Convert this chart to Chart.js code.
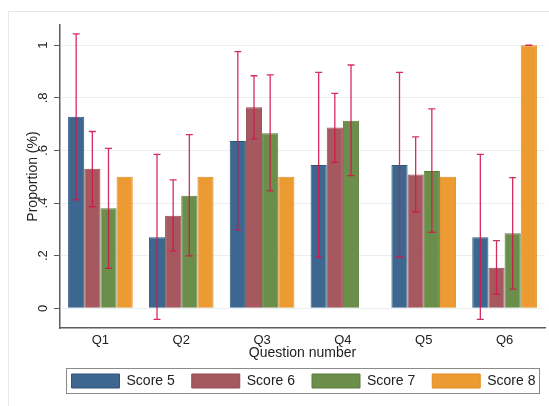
<!DOCTYPE html>
<html>
<head>
<meta charset="utf-8">
<script src="https://cdn.jsdelivr.net/npm/chart.js@4.4.1/dist/chart.umd.min.js"></script>
<style>
  body { margin: 0; background: #ffffff; }
  #wrap { width: 549px; height: 406px; }
</style>
</head>
<body>
<div id="wrap"><canvas id="myChart01" width="549" height="406"></canvas></div>
<script>
const questions = ['Q1', 'Q2', 'Q3', 'Q4', 'Q5', 'Q6'];
const yTicks = [0, 0.2, 0.4, 0.6, 0.8, 1];

const score5 = [0.728, 0.27, 0.636, 0.545, 0.545, 0.27];
const score6 = [0.53, 0.352, 0.764, 0.687, 0.509, 0.154];
const score7 = [0.38, 0.428, 0.665, 0.713, 0.522, 0.285];
const score8 = [0.5, 0.5, 0.5, null, 0.5, 1.0];

// confidence intervals (lower / upper)
const score5Lo = [0.412, -0.042, 0.298, 0.194, 0.194, -0.042];
const score5Hi = [1.043, 0.585, 0.976, 0.897, 0.897, 0.585];
const score6Lo = [0.386, 0.218, 0.644, 0.555, 0.367, 0.053];
const score6Hi = [0.672, 0.488, 0.884, 0.817, 0.652, 0.257];
const score7Lo = [0.152, 0.199, 0.446, 0.504, 0.289, 0.073];
const score7Hi = [0.608, 0.66, 0.887, 0.925, 0.758, 0.497];
const score8Lo = [null, null, null, null, null, 1.0];
const score8Hi = [null, null, null, null, null, 1.0];

const errLo = [score5Lo, score6Lo, score7Lo, score8Lo];
const errHi = [score5Hi, score6Hi, score7Hi, score8Hi];

const errorBars = {
    id: 'errorBars',
    afterDatasetsDraw(chart) {
        const ctx = chart.ctx;
        const y = chart.scales.y;
        ctx.save();
        ctx.strokeStyle = 'rgba(208, 22, 76, 0.9)';
        ctx.lineWidth = 1.3;
        chart.data.datasets.forEach((ds, i) => {
            const meta = chart.getDatasetMeta(i);
            meta.data.forEach((bar, j) => {
                const lo = errLo[i][j];
                const hi = errHi[i][j];
                if (lo == null || hi == null) return;
                const yLo = y.getPixelForValue(lo);
                const yHi = y.getPixelForValue(hi);
                ctx.beginPath();
                ctx.moveTo(bar.x, yLo);
                ctx.lineTo(bar.x, yHi);
                ctx.moveTo(bar.x - 3.5, yLo);
                ctx.lineTo(bar.x + 3.5, yLo);
                ctx.moveTo(bar.x - 3.5, yHi);
                ctx.lineTo(bar.x + 3.5, yHi);
                ctx.stroke();
            });
        });
        ctx.restore();
    }
};

const frame = {
    id: 'frame',
    beforeDraw(chart) {
        const ctx = chart.ctx;
        ctx.save();
        ctx.strokeStyle = '#e6e9ea';
        ctx.lineWidth = 1;
        ctx.beginPath();
        ctx.moveTo(8.5, 406);
        ctx.lineTo(8.5, 11.5);
        ctx.lineTo(549, 11.5);
        ctx.stroke();
        ctx.restore();
    },
    afterLayout(chart) {
        chart.legend.left += 31;
        chart.legend.right += 31;
    },
    afterDraw(chart) {
        const lg = chart.legend;
        const pad = lg.options.labels.padding;
        const x0 = (lg.left + pad + lg.right - lg.lineWidths[0]) / 2;
        const x1 = x0 + lg.lineWidths[0] - pad;
        const ctx = chart.ctx;
        ctx.save();
        ctx.strokeStyle = '#8a8a8a';
        ctx.lineWidth = 1;
        ctx.strokeRect(Math.round(x0 - 6) + 0.5, 368.5, Math.round(x1 - x0 + 9), 25);
        ctx.restore();
    }
};

new Chart(document.getElementById('myChart01'), {
    type: 'bar',
    data: {
        labels: questions,
        datasets: [{
            label: 'Score 5',
            data: score5,
            backgroundColor: '#3e6790',
            borderColor: '#2f5679',
            borderWidth: 1
        },
        {
            label: 'Score 6',
            data: score6,
            backgroundColor: '#a5595f',
            borderColor: '#934a50',
            borderWidth: 1
        },
        {
            label: 'Score 7',
            data: score7,
            backgroundColor: '#6b8e4b',
            borderColor: '#5a7d3c',
            borderWidth: 1
        },
        {
            label: 'Score 8',
            data: score8,
            backgroundColor: '#ec9a32',
            borderColor: '#e48c20',
            borderWidth: 1
        }]
    },
    options: {
        responsive: false,
        animation: false,
        categoryPercentage: 0.8,
        barPercentage: 1.0,
        layout: {
            padding: { top: 25, right: 4, bottom: 8, left: 0 }
        },
        plugins: {
            tooltip: { enabled: false },
            legend: {
                position: 'bottom',
                labels: {
                    boxWidth: 48,
                    boxHeight: 14,
                    padding: 17,
                    color: '#222',
                    font: { family: 'Liberation Sans, Arial', size: 14 }
                }
            }
        },
        scales: {
            x: {
                grid: { display: false, drawTicks: false },
                border: { display: true, color: '#5c5c5c', width: 1.5 },
                ticks: {
                    padding: 5,
                    color: '#222',
                    font: { family: 'Liberation Sans, Arial', size: 13 }
                },
                title: {
                    display: true,
                    text: 'Question number',
                    color: '#222',
                    padding: { top: 0, bottom: -3 },
                    font: { family: 'Liberation Sans, Arial', size: 14, lineHeight: 1 }
                },
                afterFit: scale => { scale.height = 29; }
            },
            y: {
                min: -0.075,
                max: 1.077,
                afterBuildTicks: scale => {
                    scale.ticks = yTicks.map(v => ({ value: v }));
                },
                grid: {
                    color: '#e9f0f1',
                    lineWidth: 1,
                    tickLength: 6,
                    tickColor: '#5c5c5c'
                },
                border: { display: true, color: '#5c5c5c', width: 1.5 },
                ticks: {
                    minRotation: 90,
                    maxRotation: 90,
                    crossAlign: 'center',
                    padding: 5,
                    color: '#222',
                    font: { family: 'Liberation Sans, Arial', size: 13 },
                    callback: v => v === 0 ? '0' : v === 1 ? '1' : String(+v.toFixed(1)).replace('0.', '.')
                },
                title: {
                    display: true,
                    text: 'Proportion (%)',
                    color: '#222',
                    padding: { top: 25, bottom: 0 },
                    font: { family: 'Liberation Sans, Arial', size: 14 }
                },
                afterFit: scale => { scale.width = 60; }
            }
        }
    },
    plugins: [frame, errorBars]
});
</script>
</body>
</html>
